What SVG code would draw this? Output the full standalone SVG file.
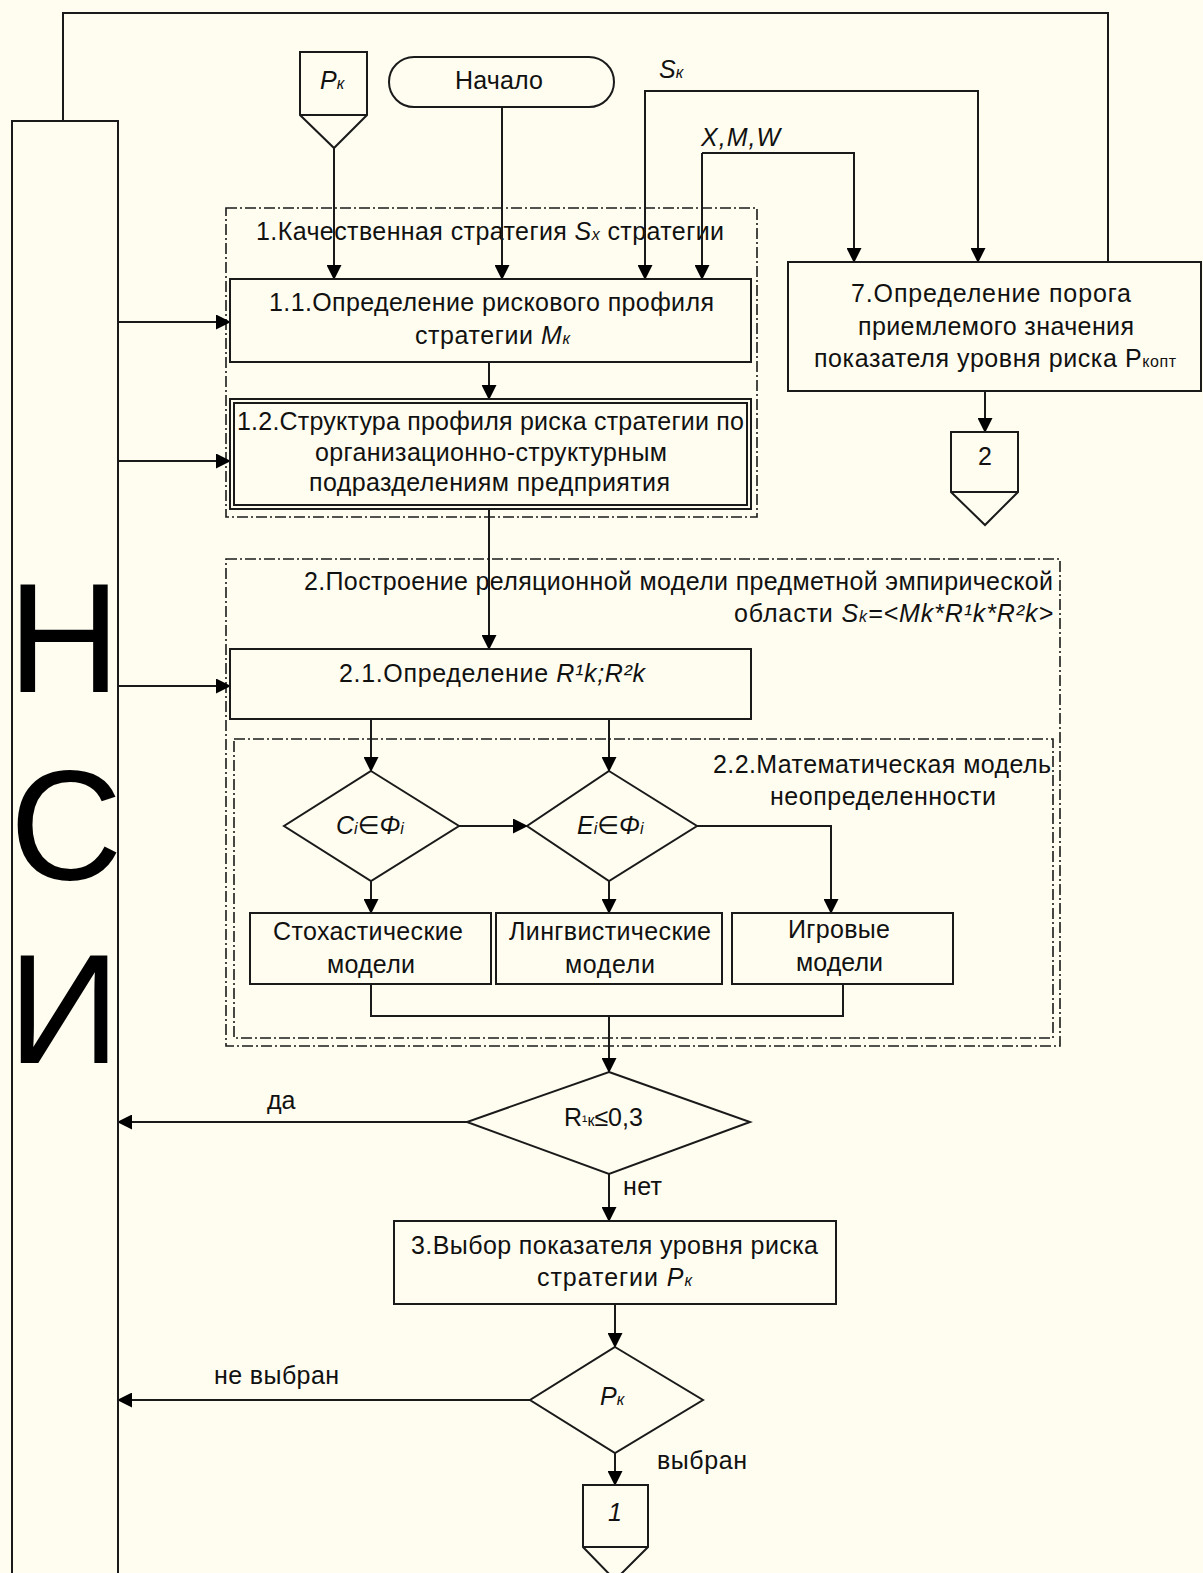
<svg xmlns="http://www.w3.org/2000/svg" width="1203" height="1573" viewBox="0 0 1203 1573">
<style>
.bg{fill:#FFFDF0}
.box{fill:none;stroke:#1a1a1a;stroke-width:2}
.grp{fill:none;stroke:#1a1a1a;stroke-width:1.6;stroke-dasharray:11 3 2 3}
.ln{fill:none;stroke:#1a1a1a;stroke-width:2}
.arr{marker-end:url(#ah)}
text{font-family:"Liberation Sans","DejaVu Sans",sans-serif;font-size:25px;fill:#111}
.it{font-style:italic}
.sm{font-size:16px}
.big{font-size:156px;fill:#000}
</style>
<defs>
<marker id="ah" markerUnits="userSpaceOnUse" markerWidth="15" markerHeight="15" refX="14" refY="7.5" orient="auto">
<path d="M0,0 L15,7.5 L0,15 z" fill="#000"/>
</marker>
</defs>
<rect class="bg" x="0" y="0" width="1203" height="1573"/>

<!-- groups (dash-dot frames) -->
<g id="group1">
<rect class="grp" x="226" y="208" width="531" height="309"/>
<text x="256" y="240" textLength="468">1.Качественная стратегия <tspan class="it">S</tspan><tspan class="it sm">x</tspan> стратегии</text>
</g>
<g id="group2">
<rect class="grp" x="226" y="559" width="834" height="487"/>
<text x="1053" y="590" text-anchor="end" textLength="749">2.Построение реляционной модели предметной эмпирической</text>
<text x="1053" y="622" text-anchor="end" textLength="319">области <tspan class="it">S</tspan><tspan class="it sm">k</tspan><tspan class="it">=&lt;Mk*R¹k*R²k&gt;</tspan></text>
</g>
<g id="group22">
<rect class="grp" x="234" y="739" width="819" height="299"/>
<text x="1051" y="773" text-anchor="end" textLength="338">2.2.Математическая модель</text>
<text x="883" y="805" text-anchor="middle" textLength="226">неопределенности</text>
</g>

<!-- connectors -->
<g id="connectors">
<path class="ln" d="M63,121 V13 H1108 V262"/>
<path class="ln arr" d="M334,148 V279"/>
<path class="ln arr" d="M502,107 V279"/>
<path class="ln arr" d="M645,279 V91 H978 V262" />
<path class="ln arr" d="M645,91 V279"/>
<path class="ln arr" d="M702,153 V279"/>
<path class="ln arr" d="M702,153 H854 V262"/>
<path class="ln arr" d="M118,322 H230"/>
<path class="ln arr" d="M118,461 H230"/>
<path class="ln arr" d="M118,686 H230"/>
<path class="ln arr" d="M489,362 V399"/>
<path class="ln arr" d="M489,509 V649"/>
<path class="ln arr" d="M985,391 V432"/>
<path class="ln arr" d="M371,719 V771"/>
<path class="ln arr" d="M609,719 V771"/>
<path class="ln arr" d="M459,826 H527"/>
<path class="ln arr" d="M697,826 H831 V913"/>
<path class="ln arr" d="M371,881 V913"/>
<path class="ln arr" d="M609,881 V913"/>
<path class="ln" d="M371,984 V1016 H843 V984"/>
<path class="ln arr" d="M609,1016 V1072"/>
<path class="ln arr" d="M467,1122 H118"/>
<path class="ln arr" d="M609,1174 V1221"/>
<path class="ln arr" d="M615,1304 V1347"/>
<path class="ln arr" d="M530,1400 H118"/>
<path class="ln arr" d="M615,1453 V1485"/>
<text x="267" y="1109">да</text>
<text x="623" y="1195" textLength="39">нет</text>
<text x="214" y="1384" textLength="125">не выбран</text>
<text x="657" y="1469" textLength="90">выбран</text>
<text class="it" x="659" y="78">S<tspan class="sm">к</tspan></text>
<text class="it" x="701" y="146" textLength="79">X,M,W</text>
</g>

<!-- nodes -->
<g id="nsi">
<rect class="box" x="12" y="121" width="106" height="1470"/>
<text class="big" x="64" y="692" text-anchor="middle">Н</text>
<text class="big" x="66" y="879" text-anchor="middle">С</text>
<text class="big" x="64" y="1063" text-anchor="middle">И</text>
</g>
<g id="pk-in">
<path class="box" d="M300,52 H367 V115 L334,148 L300,115 Z M300,115 H367"/>
<text class="it" x="320" y="89">P<tspan class="sm">к</tspan></text>
</g>
<g id="start">
<rect class="box" x="389" y="57" width="225" height="50" rx="25" ry="25"/>
<text x="455" y="89" textLength="88">Начало</text>
</g>
<g id="box11">
<rect class="box" x="230" y="279" width="521" height="83"/>
<text x="269" y="311" textLength="445">1.1.Определение рискового профиля</text>
<text x="415" y="344" textLength="155">стратегии <tspan class="it">M</tspan><tspan class="it sm">к</tspan></text>
</g>
<g id="box12">
<rect class="box" x="230" y="399" width="521" height="110"/>
<rect class="box" x="234" y="403" width="513" height="102" stroke-width="1.2"/>
<text x="237" y="430" textLength="507">1.2.Структура профиля риска стратегии по</text>
<text x="315" y="461" textLength="352">организационно-структурным</text>
<text x="309" y="491" textLength="361">подразделениям предприятия</text>
</g>
<g id="box7">
<rect class="box" x="788" y="262" width="413" height="129"/>
<text x="851" y="302" textLength="280">7.Определение порога</text>
<text x="858" y="335" textLength="276">приемлемого значения</text>
<text x="814" y="367" textLength="362">показателя уровня риска P<tspan class="sm">копт</tspan></text>
</g>
<g id="conn2">
<path class="box" d="M951,432 H1018 V492 L985,525 L951,492 Z M951,492 H1018"/>
<text x="985" y="465" text-anchor="middle">2</text>
</g>
<g id="box21">
<rect class="box" x="230" y="649" width="521" height="70"/>
<text x="339" y="682" textLength="306">2.1.Определение <tspan class="it">R¹k;R²k</tspan></text>
</g>
<g id="decC">
<path class="box" d="M371,771 L459,826 L371,881 L284,826 Z"/>
<text class="it" x="336" y="834">C<tspan class="sm">i</tspan>∈Φ<tspan class="sm">i</tspan></text>
</g>
<g id="decE">
<path class="box" d="M609,771 L697,826 L609,881 L527,826 Z"/>
<text class="it" x="577" y="834">E<tspan class="sm">i</tspan>∈Φ<tspan class="sm">i</tspan></text>
</g>
<g id="stoch">
<rect class="box" x="250" y="913" width="241" height="71"/>
<text x="273" y="940" textLength="190">Стохастические</text>
<text x="327" y="973" textLength="88">модели</text>
</g>
<g id="ling">
<rect class="box" x="496" y="913" width="226" height="71"/>
<text x="509" y="940" textLength="202">Лингвистические</text>
<text x="565" y="973" textLength="90">модели</text>
</g>
<g id="game">
<rect class="box" x="732" y="913" width="221" height="71"/>
<text x="788" y="938" textLength="102">Игровые</text>
<text x="796" y="971" textLength="87">модели</text>
</g>
<g id="decR">
<path class="box" d="M609,1072 L750,1122 L609,1174 L467,1122 Z"/>
<text x="564" y="1126">R<tspan class="sm">¹к</tspan>≤0,3</text>
</g>
<g id="box3">
<rect class="box" x="394" y="1221" width="442" height="83"/>
<text x="411" y="1254" textLength="407">3.Выбор показателя уровня риска</text>
<text x="537" y="1286" textLength="155">стратегии <tspan class="it">P</tspan><tspan class="it sm">к</tspan></text>
</g>
<g id="decP">
<path class="box" d="M615,1347 L703,1400 L615,1453 L530,1400 Z"/>
<text class="it" x="600" y="1405">P<tspan class="sm">к</tspan></text>
</g>
<g id="conn1">
<path class="box" d="M583,1485 H648 V1547 L615,1580 L583,1547 Z M583,1547 H648"/>
<text class="it" x="615" y="1521" text-anchor="middle">1</text>
</g>
</svg>
